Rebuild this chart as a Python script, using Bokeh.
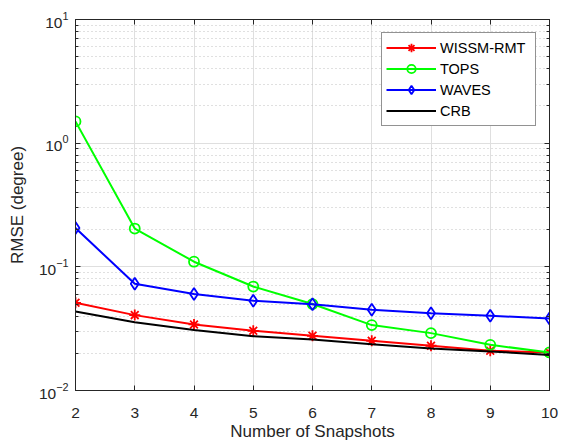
from bokeh.plotting import figure
from bokeh.models import FixedTicker, LinearAxis, CustomJSTickFormatter
from bokeh.embed import file_html
from bokeh.resources import INLINE

# ---- data ----
snapshots = [2, 3, 4, 5, 6, 7, 8, 9, 10]
wissm_rmt = [0.0512, 0.0407, 0.0342, 0.0304, 0.0277, 0.0252, 0.0230, 0.0210, 0.0203]
tops      = [1.50, 0.204, 0.110, 0.0693, 0.0500, 0.0338, 0.0291, 0.0234, 0.0203]
waves     = [0.206, 0.0729, 0.0602, 0.0531, 0.0499, 0.0449, 0.0422, 0.0402, 0.0382]
crb       = [0.0435, 0.0357, 0.0308, 0.0275, 0.0258, 0.0237, 0.0219, 0.0207, 0.0194]

x_ticks = [2, 3, 4, 5, 6, 7, 8, 9, 10]
y_major = [0.01, 0.1, 1, 10]
y_minor = [m * d for d in y_major[:-1] for m in range(2, 10)]

FONT = "Liberation Sans"
AX = "#262626"

p = figure(width=569, height=444, output_backend="svg", toolbar_location=None,
           y_axis_type="log", x_range=(2, 10), y_range=(0.01, 10),
           min_border_left=75, min_border_right=20, min_border_top=19, min_border_bottom=54)
p.outline_line_color = AX
p.outline_line_width = 1
p.background_fill_color = "white"
p.border_fill_color = "white"

xt = FixedTicker(ticks=x_ticks, minor_ticks=[])
yt = FixedTicker(ticks=y_major, minor_ticks=y_minor)
p.xaxis.ticker = xt
p.yaxis.ticker = yt
p.xgrid.ticker = xt
p.ygrid.ticker = yt

for ax in (p.xaxis[0], p.yaxis[0]):
    ax.axis_line_color = AX
    ax.major_tick_line_color = AX
    ax.minor_tick_line_color = AX
    ax.major_tick_in = 5
    ax.major_tick_out = 0
    ax.minor_tick_in = 3
    ax.minor_tick_out = 0
    ax.major_label_text_font = FONT
    ax.major_label_text_font_size = "15.5px"
    ax.major_label_text_color = AX
    ax.axis_label_text_font = FONT
    ax.axis_label_text_font_size = "17px"
    ax.axis_label_text_font_style = "normal"
    ax.axis_label_text_color = AX
p.xaxis.major_label_standoff = 17
p.yaxis.major_label_standoff = 7
p.xaxis.axis_label = "Number of Snapshots"
p.yaxis.axis_label = "RMSE (degree)"
p.xaxis.axis_label_standoff = 1
p.yaxis.axis_label_standoff = 9

# top/right frame ticks (no labels)
blank = CustomJSTickFormatter(code="return ''")
top = LinearAxis(ticker=xt, formatter=blank, major_label_standoff=0,
                 major_label_text_font_size="1px",
                 major_tick_in=5, major_tick_out=0, minor_tick_in=0, minor_tick_out=0,
                 axis_line_color=AX, major_tick_line_color=AX)
right = LinearAxis(ticker=yt, formatter=blank, major_label_standoff=0,
                   major_label_text_font_size="1px",
                   major_tick_in=5, major_tick_out=0, minor_tick_in=3, minor_tick_out=0,
                   axis_line_color=AX, major_tick_line_color=AX, minor_tick_line_color=AX)
p.add_layout(top, "above")
p.add_layout(right, "right")

# grids
p.xgrid.grid_line_color = "#dfdfdf"
p.ygrid.grid_line_color = "#dfdfdf"
p.ygrid.minor_grid_line_color = "#c0c0c0"
p.ygrid.minor_grid_line_dash = "1 3"

# series
series = [
    ("WISSM-RMT", wissm_rmt, "#ff0000", "asterisk", 11),
    ("TOPS", tops, "#00ff00", "circle", 10),
    ("WAVES", waves, "#0000ff", "diamond", 12),
]
for name, ys, col, mk, sz in series:
    p.line(snapshots, ys, line_color=col, line_width=2, legend_label=name)
    p.scatter(snapshots, ys, marker=mk, size=sz, line_color=col, fill_color=None,
              line_width=1.8, legend_label=name)
p.line(snapshots, crb, line_color="black", line_width=2, legend_label="CRB")

# legend
lg = p.legend[0]
lg.location = "top_right"
lg.margin = 13
lg.border_line_color = AX
lg.border_line_width = 1
lg.background_fill_color = "white"
lg.background_fill_alpha = 1
lg.label_text_font = FONT
lg.label_text_font_size = "14.5px"
lg.label_text_color = "black"
lg.glyph_width = 50
lg.glyph_height = 21
lg.label_height = 21
lg.label_width = 91
lg.padding = 4
lg.spacing = 0
lg.label_standoff = 4

open("out.html", "w").write(file_html(p, INLINE))
